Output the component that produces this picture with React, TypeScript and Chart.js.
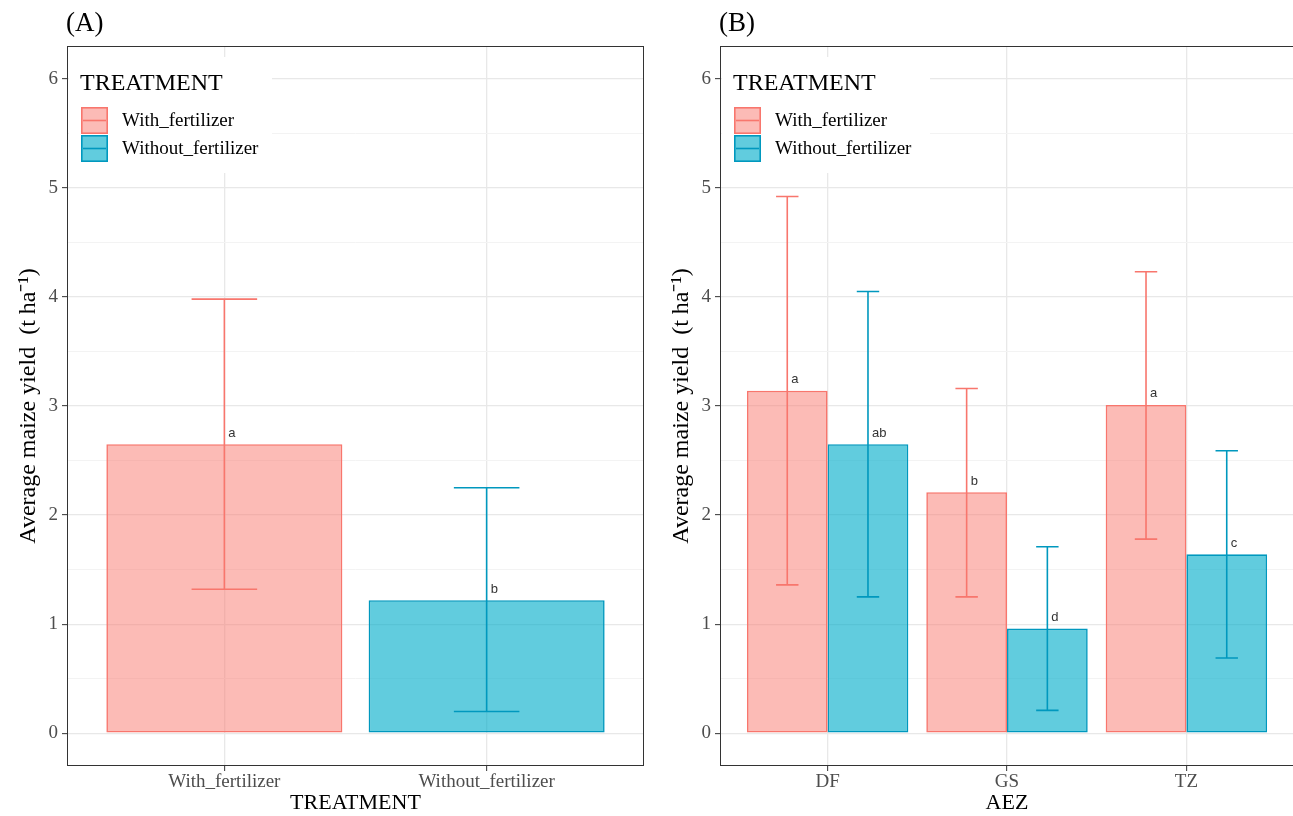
import React, { useEffect, useRef } from "react";
import { Chart, registerables } from "chart.js";

Chart.register(...registerables);

// ---------- data ----------
const treatments = ["With_fertilizer", "Without_fertilizer"];
const aezCategories = ["DF", "GS", "TZ"];
const yTickValues = [0, 1, 2, 3, 4, 5, 6];
const yMinorValues = [0.5, 1.5, 2.5, 3.5, 4.5, 5.5];

const meanA = [2.65, 1.22];
const lowA = [1.32, 0.2];
const highA = [3.98, 2.25];
const lettersA = ["a", "b"];

const meanWith = [3.14, 2.21, 3.01];
const lowWith = [1.36, 1.25, 1.78];
const highWith = [4.92, 3.16, 4.23];
const lettersWith = ["a", "b", "a"];

const meanWithout = [2.65, 0.96, 1.64];
const lowWithout = [1.25, 0.21, 0.69];
const highWithout = [4.05, 1.71, 2.59];
const lettersWithout = ["ab", "d", "c"];

// ---------- styles ----------
const PINK_FILL = "rgba(249,120,110,0.5)";
const PINK_LINE = "#F8766D";
const CYAN_FILL = "rgba(0,172,202,0.62)";
const CYAN_LINE = "#0098BE";
const SERIF = '"Liberation Serif", "Times New Roman", serif';
const SANS = '"Liberation Sans", Arial, sans-serif';

const CANVAS_H = 816;

type PanelOpts = {
  label: string;
  capUnits: number;
  rightPad: number;
  legendWidth: number;
};

const panelPlugin = {
  id: "panelDecor",
  afterDatasetsDraw(chart: any, _args: any, opts: PanelOpts) {
    const { ctx, chartArea, scales } = chart;
    const xs = scales.x;
    const ys = scales.y;
    const capHalf = Math.abs(xs.getPixelForValue(1 + opts.capUnits) - xs.getPixelForValue(1));
    ctx.save();
    // error bars
    chart.data.datasets.forEach((ds: any, i: number) => {
      const meta = chart.getDatasetMeta(i);
      meta.data.forEach((bar: any, j: number) => {
        const color = Array.isArray(ds.borderColor) ? ds.borderColor[j] : ds.borderColor;
        const x = bar.x;
        const yl = ys.getPixelForValue(ds.errLow[j]);
        const yh = ys.getPixelForValue(ds.errHigh[j]);
        ctx.strokeStyle = color;
        ctx.lineWidth = 1.6;
        ctx.beginPath();
        ctx.moveTo(x, yl);
        ctx.lineTo(x, yh);
        ctx.moveTo(x - capHalf, yl);
        ctx.lineTo(x + capHalf, yl);
        ctx.moveTo(x - capHalf, yh);
        ctx.lineTo(x + capHalf, yh);
        ctx.stroke();
      });
    });
    // letters
    chart.data.datasets.forEach((ds: any, i: number) => {
      const meta = chart.getDatasetMeta(i);
      meta.data.forEach((bar: any, j: number) => {
        ctx.fillStyle = "#333333";
        ctx.font = `13px ${SANS}`;
        ctx.textAlign = "left";
        ctx.textBaseline = "middle";
        ctx.fillText(ds.letters[j], bar.x + 4, bar.y - 11);
      });
    });
    // legend
    const L = chartArea.left;
    ctx.fillStyle = "#ffffff";
    ctx.fillRect(L + 2, 57, opts.legendWidth, 116);
    ctx.fillStyle = "#000000";
    ctx.font = `24px ${SERIF}`;
    ctx.textAlign = "left";
    ctx.textBaseline = "middle";
    ctx.fillText("TREATMENT", L + 13, 84);
    const keys = [
      { fill: PINK_FILL, line: PINK_LINE, text: treatments[0], y: 107 },
      { fill: CYAN_FILL, line: CYAN_LINE, text: treatments[1], y: 135 },
    ];
    keys.forEach((k) => {
      const kx = L + 14;
      ctx.fillStyle = k.fill;
      ctx.fillRect(kx, k.y, 27, 27);
      ctx.strokeStyle = k.line;
      ctx.lineWidth = 1.6;
      ctx.strokeRect(kx + 0.8, k.y + 0.8, 25.4, 25.4);
      ctx.beginPath();
      ctx.moveTo(kx + 2, k.y + 13.5);
      ctx.lineTo(kx + 25, k.y + 13.5);
      ctx.stroke();
      ctx.fillStyle = "#000000";
      ctx.font = `19px ${SERIF}`;
      ctx.fillText(k.text, L + 55, k.y + 14);
    });
    ctx.restore();
  },
  afterDraw(chart: any, _args: any, opts: PanelOpts) {
    const { ctx, chartArea } = chart;
    ctx.save();
    ctx.strokeStyle = "#333333";
    ctx.lineWidth = 1;
    ctx.strokeRect(
      chartArea.left + 0.5,
      chartArea.top + 0.5,
      chartArea.right - chartArea.left - 1,
      chartArea.bottom - chartArea.top - 1
    );
    ctx.fillStyle = "#000000";
    ctx.font = `27px ${SERIF}`;
    ctx.textAlign = "left";
    ctx.textBaseline = "alphabetic";
    ctx.fillText(opts.label, chartArea.left - 1, 31);
    ctx.restore();
  },
};

function makeConfig(
  datasets: any[],
  categories: string[],
  axisTitle: string,
  panel: PanelOpts
): any {
  const n = categories.length;
  return {
    type: "bar",
    data: { datasets },
    plugins: [panelPlugin],
    options: {
      responsive: false,
      animation: false,
      events: [],
      layout: { padding: { left: 0, top: 46, right: panel.rightPad, bottom: 0 } },
      plugins: {
        legend: { display: false },
        tooltip: { enabled: false },
        title: { display: false },
        panelDecor: panel,
      },
      datasets: {
        bar: {
          categoryPercentage: 0.9,
          barPercentage: 1.0,
          borderWidth: 1.6,
          borderSkipped: false,
        },
      },
      scales: {
        x: {
          type: "linear",
          offset: false,
          min: 0.4,
          max: n + 0.6,
          afterBuildTicks: (s: any) => {
            s.ticks = categories.map((_c, i) => ({ value: i + 1 }));
          },
          afterFit: (s: any) => {
            s.height = 50;
          },
          ticks: {
            autoSkip: false,
            maxRotation: 0,
            padding: 0,
            color: "#4d4d4d",
            font: { family: SERIF, size: 19 },
            callback: (v: any) => categories[Math.round(v) - 1] ?? "",
          },
          grid: {
            offset: false,
            color: "#e8e8e8",
            lineWidth: 1.3,
            tickColor: "#333333",
            tickLength: 5,
            tickWidth: 1,
          },
          border: { display: false },
          title: {
            display: true,
            text: axisTitle,
            color: "#000000",
            font: { family: SERIF, size: 22 },
            padding: { top: 0, bottom: 0 },
          },
        },
        y: {
          type: "linear",
          min: -0.3,
          max: 6.3,
          afterBuildTicks: (s: any) => {
            const all = [...yTickValues, ...yMinorValues].sort((a, b) => a - b);
            s.ticks = all.map((v) => ({ value: v }));
          },
          afterFit: (s: any) => {
            s.width = 67;
          },
          ticks: {
            autoSkip: false,
            padding: 4,
            color: "#4d4d4d",
            font: { family: SERIF, size: 19 },
            callback: (v: any) => (yTickValues.includes(v) ? String(v) : ""),
          },
          grid: {
            color: (c: any) => (c.tick && Number.isInteger(c.tick.value) ? "#e8e8e8" : "#f3f3f3"),
            lineWidth: (c: any) => (c.tick && Number.isInteger(c.tick.value) ? 1.3 : 1),
            tickColor: (c: any) =>
              c.tick && Number.isInteger(c.tick.value) ? "#333333" : "rgba(0,0,0,0)",
            tickLength: 5,
            tickWidth: 1,
          },
          border: { display: false },
          title: {
            display: true,
            text: "Average maize yield  (t ha⁻¹)",
            color: "#000000",
            font: { family: SERIF, size: 24 },
            padding: { top: 14, bottom: 0 },
          },
        },
      },
    },
  };
}

function PanelChart(props: { width: number; left: number; build: () => any }) {
  const ref = useRef<HTMLCanvasElement | null>(null);
  useEffect(() => {
    if (!ref.current) return;
    const chart = new Chart(ref.current, props.build());
    return () => chart.destroy();
  }, []);
  return (
    <canvas
      ref={ref}
      width={props.width}
      height={CANVAS_H}
      style={{
        position: "absolute",
        left: props.left,
        top: 0,
        width: props.width,
        height: CANVAS_H,
      }}
    />
  );
}

export default function App() {
  const buildA = () =>
    makeConfig(
      [
        {
          label: "TREATMENT",
          data: meanA.map((y, i) => ({ x: i + 1, y })),
          backgroundColor: [PINK_FILL, CYAN_FILL],
          borderColor: [PINK_LINE, CYAN_LINE],
          errLow: lowA,
          errHigh: highA,
          letters: lettersA,
        },
      ],
      treatments,
      "TREATMENT",
      { label: "(A)", capUnits: 0.125, rightPad: 9, legendWidth: 203 }
    );
  const buildB = () =>
    makeConfig(
      [
        {
          label: treatments[0],
          data: meanWith.map((y, i) => ({ x: i + 1, y })),
          backgroundColor: PINK_FILL,
          borderColor: PINK_LINE,
          errLow: lowWith,
          errHigh: highWith,
          letters: lettersWith,
        },
        {
          label: treatments[1],
          data: meanWithout.map((y, i) => ({ x: i + 1, y })),
          backgroundColor: CYAN_FILL,
          borderColor: CYAN_LINE,
          errLow: lowWithout,
          errHigh: highWithout,
          letters: lettersWithout,
        },
      ],
      aezCategories,
      "AEZ",
      { label: "(B)", capUnits: 0.0625, rightPad: 0, legendWidth: 208 }
    );
  return (
    <div
      style={{
        position: "absolute",
        left: 0,
        top: 0,
        width: 1293,
        height: 816,
        overflow: "hidden",
        background: "#ffffff",
      }}
    >
      <PanelChart width={653} left={0} build={buildA} />
      <PanelChart width={641} left={653} build={buildB} />
    </div>
  );
}
